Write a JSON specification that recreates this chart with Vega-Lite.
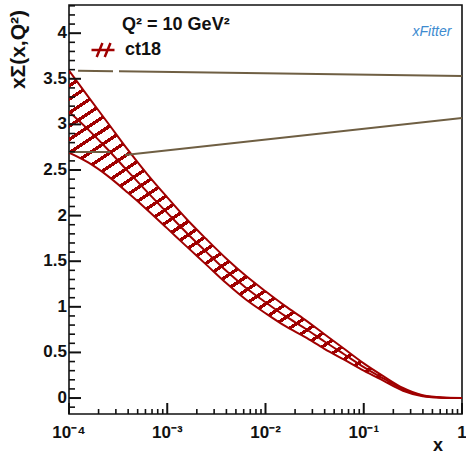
{
  "$schema": "https://vega.github.io/schema/vega-lite/v6.json",
  "width": 393,
  "height": 409,
  "autosize": {"type": "none"},
  "padding": {"left": 69, "top": 5, "right": 4, "bottom": 41},
  "background": "white",
  "config": {
    "view": {"stroke": "#111111", "strokeWidth": 1.6},
    "font": "Liberation Sans"
  },
  "datasets": {
    "band": [
      {"x": 0.0001, "hi": 3.59, "lo": 2.69, "mid": 3.14},
      {"x": 0.000158, "hi": 3.30, "lo": 2.58, "mid": 2.94},
      {"x": 0.000251, "hi": 3.01, "lo": 2.43, "mid": 2.72},
      {"x": 0.000398, "hi": 2.72, "lo": 2.25, "mid": 2.485},
      {"x": 0.000631, "hi": 2.45, "lo": 2.06, "mid": 2.255},
      {"x": 0.001, "hi": 2.20, "lo": 1.86, "mid": 2.03},
      {"x": 0.00158, "hi": 1.96, "lo": 1.66, "mid": 1.81},
      {"x": 0.00251, "hi": 1.74, "lo": 1.46, "mid": 1.60},
      {"x": 0.00398, "hi": 1.53, "lo": 1.26, "mid": 1.395},
      {"x": 0.00631, "hi": 1.34, "lo": 1.08, "mid": 1.21},
      {"x": 0.01, "hi": 1.17, "lo": 0.93, "mid": 1.05},
      {"x": 0.0158, "hi": 1.01, "lo": 0.79, "mid": 0.90},
      {"x": 0.0251, "hi": 0.86, "lo": 0.67, "mid": 0.765},
      {"x": 0.0398, "hi": 0.70, "lo": 0.54, "mid": 0.62},
      {"x": 0.0631, "hi": 0.54, "lo": 0.42, "mid": 0.48},
      {"x": 0.1, "hi": 0.38, "lo": 0.30, "mid": 0.34},
      {"x": 0.158, "hi": 0.24, "lo": 0.19, "mid": 0.215},
      {"x": 0.251, "hi": 0.11, "lo": 0.08, "mid": 0.095},
      {"x": 0.398, "hi": 0.03, "lo": 0.02, "mid": 0.025},
      {"x": 0.631, "hi": 0.006, "lo": 0.003, "mid": 0.0045},
      {"x": 1, "hi": 0.001, "lo": 0.0, "mid": 0.0005}
    ],
    "guide": [
      {"seg": "a1", "x": 0.0001236, "y": 3.589},
      {"seg": "a1", "x": 0.0002805, "y": 3.584},
      {"seg": "a2", "x": 0.0003228, "y": 3.583},
      {"seg": "a2", "x": 1, "y": 3.531},
      {"seg": "b1", "x": 0.0001, "y": 2.697},
      {"seg": "b1", "x": 0.0002618, "y": 2.697},
      {"seg": "b2", "x": 0.0003715, "y": 2.664},
      {"seg": "b2", "x": 1, "y": 3.07}
    ],
    "ylabels": [
      {"v": 0, "label": "0"}, {"v": 0.5, "label": "0.5"}, {"v": 1, "label": "1"}, {"v": 1.5, "label": "1.5"},
      {"v": 2, "label": "2"}, {"v": 2.5, "label": "2.5"}, {"v": 3, "label": "3"}, {"v": 3.5, "label": "3.5"}, {"v": 4, "label": "4"}
    ],
    "ymajor": [{"v": 0}, {"v": 0.5}, {"v": 1}, {"v": 1.5}, {"v": 2}, {"v": 2.5}, {"v": 3}, {"v": 3.5}, {"v": 4}],
    "yminor": [
      {"v": -0.1}, {"v": 0.1}, {"v": 0.2}, {"v": 0.3}, {"v": 0.4}, {"v": 0.6}, {"v": 0.7}, {"v": 0.8}, {"v": 0.9},
      {"v": 1.1}, {"v": 1.2}, {"v": 1.3}, {"v": 1.4}, {"v": 1.6}, {"v": 1.7}, {"v": 1.8}, {"v": 1.9},
      {"v": 2.1}, {"v": 2.2}, {"v": 2.3}, {"v": 2.4}, {"v": 2.6}, {"v": 2.7}, {"v": 2.8}, {"v": 2.9},
      {"v": 3.1}, {"v": 3.2}, {"v": 3.3}, {"v": 3.4}, {"v": 3.6}, {"v": 3.7}, {"v": 3.8}, {"v": 3.9},
      {"v": 4.1}, {"v": 4.2}, {"v": 4.3}
    ],
    "xlabels": [
      {"v": 0.0001, "label": "10⁻⁴"}, {"v": 0.001, "label": "10⁻³"}, {"v": 0.01, "label": "10⁻²"},
      {"v": 0.1, "label": "10⁻¹"}, {"v": 1, "label": "1"}
    ],
    "xmajor": [{"v": 0.0001}, {"v": 0.001}, {"v": 0.01}, {"v": 0.1}, {"v": 1}],
    "xminor": [
      {"v": 0.0002}, {"v": 0.0003}, {"v": 0.0004}, {"v": 0.0005}, {"v": 0.0006}, {"v": 0.0007}, {"v": 0.0008}, {"v": 0.0009},
      {"v": 0.002}, {"v": 0.003}, {"v": 0.004}, {"v": 0.005}, {"v": 0.006}, {"v": 0.007}, {"v": 0.008}, {"v": 0.009},
      {"v": 0.02}, {"v": 0.03}, {"v": 0.04}, {"v": 0.05}, {"v": 0.06}, {"v": 0.07}, {"v": 0.08}, {"v": 0.09},
      {"v": 0.2}, {"v": 0.3}, {"v": 0.4}, {"v": 0.5}, {"v": 0.6}, {"v": 0.7}, {"v": 0.8}, {"v": 0.9}
    ],
    "xtitle": [{"label": "x"}],
    "ytitle": [{"label": "xΣ(x,Q²)"}],
    "notes": [
      {"label": "Q² = 10 GeV²", "x": 0.000347, "y": 4.035}
    ],
    "logo": [
      {"label": "xFitter", "x": 0.495, "y": 3.97}
    ]
  },
  "layer": [
    {
      "data": {"name": "band"},
      "mark": {
        "type": "area",
        "interpolate": "monotone",
        "clip": true,
        "fill": {
          "gradient": "linear",
          "x1": 0, "y1": 0, "x2": 0.8, "y2": 1,
          "stops": [
            {"offset": 0, "color": "#a00000"}, {"offset": 0.0075, "color": "#a00000"}, {"offset": 0.0075, "color": "transparent"}, {"offset": 0.025, "color": "transparent"},
            {"offset": 0.025, "color": "#a00000"}, {"offset": 0.0325, "color": "#a00000"}, {"offset": 0.0325, "color": "transparent"}, {"offset": 0.05, "color": "transparent"},
            {"offset": 0.05, "color": "#a00000"}, {"offset": 0.0575, "color": "#a00000"}, {"offset": 0.0575, "color": "transparent"}, {"offset": 0.075, "color": "transparent"},
            {"offset": 0.075, "color": "#a00000"}, {"offset": 0.0825, "color": "#a00000"}, {"offset": 0.0825, "color": "transparent"}, {"offset": 0.1, "color": "transparent"},
            {"offset": 0.1, "color": "#a00000"}, {"offset": 0.1075, "color": "#a00000"}, {"offset": 0.1075, "color": "transparent"}, {"offset": 0.125, "color": "transparent"},
            {"offset": 0.125, "color": "#a00000"}, {"offset": 0.1325, "color": "#a00000"}, {"offset": 0.1325, "color": "transparent"}, {"offset": 0.15, "color": "transparent"},
            {"offset": 0.15, "color": "#a00000"}, {"offset": 0.1575, "color": "#a00000"}, {"offset": 0.1575, "color": "transparent"}, {"offset": 0.175, "color": "transparent"},
            {"offset": 0.175, "color": "#a00000"}, {"offset": 0.1825, "color": "#a00000"}, {"offset": 0.1825, "color": "transparent"}, {"offset": 0.2, "color": "transparent"},
            {"offset": 0.2, "color": "#a00000"}, {"offset": 0.2075, "color": "#a00000"}, {"offset": 0.2075, "color": "transparent"}, {"offset": 0.225, "color": "transparent"},
            {"offset": 0.225, "color": "#a00000"}, {"offset": 0.2325, "color": "#a00000"}, {"offset": 0.2325, "color": "transparent"}, {"offset": 0.25, "color": "transparent"},
            {"offset": 0.25, "color": "#a00000"}, {"offset": 0.2575, "color": "#a00000"}, {"offset": 0.2575, "color": "transparent"}, {"offset": 0.275, "color": "transparent"},
            {"offset": 0.275, "color": "#a00000"}, {"offset": 0.2825, "color": "#a00000"}, {"offset": 0.2825, "color": "transparent"}, {"offset": 0.3, "color": "transparent"},
            {"offset": 0.3, "color": "#a00000"}, {"offset": 0.3075, "color": "#a00000"}, {"offset": 0.3075, "color": "transparent"}, {"offset": 0.325, "color": "transparent"},
            {"offset": 0.325, "color": "#a00000"}, {"offset": 0.3325, "color": "#a00000"}, {"offset": 0.3325, "color": "transparent"}, {"offset": 0.35, "color": "transparent"},
            {"offset": 0.35, "color": "#a00000"}, {"offset": 0.3575, "color": "#a00000"}, {"offset": 0.3575, "color": "transparent"}, {"offset": 0.375, "color": "transparent"},
            {"offset": 0.375, "color": "#a00000"}, {"offset": 0.3825, "color": "#a00000"}, {"offset": 0.3825, "color": "transparent"}, {"offset": 0.4, "color": "transparent"},
            {"offset": 0.4, "color": "#a00000"}, {"offset": 0.4075, "color": "#a00000"}, {"offset": 0.4075, "color": "transparent"}, {"offset": 0.425, "color": "transparent"},
            {"offset": 0.425, "color": "#a00000"}, {"offset": 0.4325, "color": "#a00000"}, {"offset": 0.4325, "color": "transparent"}, {"offset": 0.45, "color": "transparent"},
            {"offset": 0.45, "color": "#a00000"}, {"offset": 0.4575, "color": "#a00000"}, {"offset": 0.4575, "color": "transparent"}, {"offset": 0.475, "color": "transparent"},
            {"offset": 0.475, "color": "#a00000"}, {"offset": 0.4825, "color": "#a00000"}, {"offset": 0.4825, "color": "transparent"}, {"offset": 0.5, "color": "transparent"},
            {"offset": 0.5, "color": "#a00000"}, {"offset": 0.5075, "color": "#a00000"}, {"offset": 0.5075, "color": "transparent"}, {"offset": 0.525, "color": "transparent"},
            {"offset": 0.525, "color": "#a00000"}, {"offset": 0.5325, "color": "#a00000"}, {"offset": 0.5325, "color": "transparent"}, {"offset": 0.55, "color": "transparent"},
            {"offset": 0.55, "color": "#a00000"}, {"offset": 0.5575, "color": "#a00000"}, {"offset": 0.5575, "color": "transparent"}, {"offset": 0.575, "color": "transparent"},
            {"offset": 0.575, "color": "#a00000"}, {"offset": 0.5825, "color": "#a00000"}, {"offset": 0.5825, "color": "transparent"}, {"offset": 0.6, "color": "transparent"},
            {"offset": 0.6, "color": "#a00000"}, {"offset": 0.6075, "color": "#a00000"}, {"offset": 0.6075, "color": "transparent"}, {"offset": 0.625, "color": "transparent"},
            {"offset": 0.625, "color": "#a00000"}, {"offset": 0.6325, "color": "#a00000"}, {"offset": 0.6325, "color": "transparent"}, {"offset": 0.65, "color": "transparent"},
            {"offset": 0.65, "color": "#a00000"}, {"offset": 0.6575, "color": "#a00000"}, {"offset": 0.6575, "color": "transparent"}, {"offset": 0.675, "color": "transparent"},
            {"offset": 0.675, "color": "#a00000"}, {"offset": 0.6825, "color": "#a00000"}, {"offset": 0.6825, "color": "transparent"}, {"offset": 0.7, "color": "transparent"},
            {"offset": 0.7, "color": "#a00000"}, {"offset": 0.7075, "color": "#a00000"}, {"offset": 0.7075, "color": "transparent"}, {"offset": 0.725, "color": "transparent"},
            {"offset": 0.725, "color": "#a00000"}, {"offset": 0.7325, "color": "#a00000"}, {"offset": 0.7325, "color": "transparent"}, {"offset": 0.75, "color": "transparent"},
            {"offset": 0.75, "color": "#a00000"}, {"offset": 0.7575, "color": "#a00000"}, {"offset": 0.7575, "color": "transparent"}, {"offset": 0.775, "color": "transparent"},
            {"offset": 0.775, "color": "#a00000"}, {"offset": 0.7825, "color": "#a00000"}, {"offset": 0.7825, "color": "transparent"}, {"offset": 0.8, "color": "transparent"},
            {"offset": 0.8, "color": "#a00000"}, {"offset": 0.8075, "color": "#a00000"}, {"offset": 0.8075, "color": "transparent"}, {"offset": 0.825, "color": "transparent"},
            {"offset": 0.825, "color": "#a00000"}, {"offset": 0.8325, "color": "#a00000"}, {"offset": 0.8325, "color": "transparent"}, {"offset": 0.85, "color": "transparent"},
            {"offset": 0.85, "color": "#a00000"}, {"offset": 0.8575, "color": "#a00000"}, {"offset": 0.8575, "color": "transparent"}, {"offset": 0.875, "color": "transparent"},
            {"offset": 0.875, "color": "#a00000"}, {"offset": 0.8825, "color": "#a00000"}, {"offset": 0.8825, "color": "transparent"}, {"offset": 0.9, "color": "transparent"},
            {"offset": 0.9, "color": "#a00000"}, {"offset": 0.9075, "color": "#a00000"}, {"offset": 0.9075, "color": "transparent"}, {"offset": 0.925, "color": "transparent"},
            {"offset": 0.925, "color": "#a00000"}, {"offset": 0.9325, "color": "#a00000"}, {"offset": 0.9325, "color": "transparent"}, {"offset": 0.95, "color": "transparent"},
            {"offset": 0.95, "color": "#a00000"}, {"offset": 0.9575, "color": "#a00000"}, {"offset": 0.9575, "color": "transparent"}, {"offset": 0.975, "color": "transparent"},
            {"offset": 0.975, "color": "#a00000"}, {"offset": 0.9825, "color": "#a00000"}, {"offset": 0.9825, "color": "transparent"}, {"offset": 1, "color": "transparent"}
          ]
        }
      },
      "encoding": {
        "x": {"field": "x", "type": "quantitative", "scale": {"type": "log", "domain": [0.0001, 1], "nice": false}, "axis": null},
        "y": {"field": "hi", "type": "quantitative", "scale": {"domain": [-0.175, 4.309], "nice": false, "zero": false}, "axis": null},
        "y2": {"field": "lo"}
      }
    },
    {
      "data": {"name": "band"},
      "mark": {"type": "line", "interpolate": "monotone", "color": "#a00000", "strokeWidth": 2, "clip": true},
      "encoding": {
        "x": {"field": "x", "type": "quantitative", "scale": {"type": "log", "domain": [0.0001, 1], "nice": false}, "axis": null},
        "y": {"field": "hi", "type": "quantitative", "scale": {"domain": [-0.175, 4.309], "nice": false, "zero": false}, "axis": null}
      }
    },
    {
      "data": {"name": "band"},
      "mark": {"type": "line", "interpolate": "monotone", "color": "#a00000", "strokeWidth": 2, "clip": true},
      "encoding": {
        "x": {"field": "x", "type": "quantitative", "scale": {"type": "log", "domain": [0.0001, 1], "nice": false}, "axis": null},
        "y": {"field": "lo", "type": "quantitative", "scale": {"domain": [-0.175, 4.309], "nice": false, "zero": false}, "axis": null}
      }
    },
    {
      "data": {"name": "band"},
      "mark": {"type": "line", "interpolate": "monotone", "strokeWidth": 2, "clip": true},
      "encoding": {
        "x": {"field": "x", "type": "quantitative", "scale": {"type": "log", "domain": [0.0001, 1], "nice": false}, "axis": null},
        "y": {"field": "mid", "type": "quantitative", "scale": {"domain": [-0.175, 4.309], "nice": false, "zero": false}, "axis": null},
        "color": {
          "datum": "ct18", "type": "nominal",
          "scale": {"range": ["#a00000"]},
          "legend": {
            "orient": "none", "legendX": 21, "legendY": 32, "padding": 0,
            "title": null,
            "symbolType": "M-1,0H1M-0.55,0.6L-0.05,-0.6M0.15,0.6L0.65,-0.6",
            "symbolSize": 529, "symbolStrokeWidth": 2.5,
            "symbolFillColor": "transparent", "symbolStrokeColor": "#a00000",
            "labelFont": "Liberation Sans", "labelFontWeight": "bold", "labelFontSize": 18,
            "labelColor": "#111111", "labelOffset": 9
          }
        }
      }
    },
    {
      "data": {"name": "guide"},
      "mark": {"type": "line", "color": "#6f5f43", "strokeWidth": 2, "clip": true},
      "encoding": {
        "x": {"field": "x", "type": "quantitative", "scale": {"type": "log", "domain": [0.0001, 1], "nice": false}, "axis": null},
        "y": {"field": "y", "type": "quantitative", "scale": {"domain": [-0.175, 4.309], "nice": false, "zero": false}, "axis": null},
        "detail": {"field": "seg", "type": "nominal"}
      }
    },
    {
      "data": {"name": "ylabels"},
      "mark": {"type": "text", "align": "right", "baseline": "middle", "dx": -2, "font": "Liberation Sans", "fontWeight": "bold", "fontSize": 17, "color": "#111111"},
      "encoding": {
        "x": {"datum": 0.0001, "type": "quantitative", "scale": {"type": "log", "domain": [0.0001, 1], "nice": false}, "axis": null},
        "y": {"field": "v", "type": "quantitative", "scale": {"domain": [-0.175, 4.309], "nice": false, "zero": false}, "axis": null},
        "text": {"field": "label"}
      }
    },
    {
      "data": {"name": "xlabels"},
      "mark": {"type": "text", "align": "center", "baseline": "top", "dy": 11, "font": "Liberation Sans", "fontWeight": "bold", "fontSize": 17, "color": "#111111"},
      "encoding": {
        "x": {"field": "v", "type": "quantitative", "scale": {"type": "log", "domain": [0.0001, 1], "nice": false}, "axis": null},
        "y": {"datum": -0.175, "type": "quantitative", "scale": {"domain": [-0.175, 4.309], "nice": false, "zero": false}, "axis": null},
        "text": {"field": "label"}
      }
    },
    {
      "data": {"name": "xtitle"},
      "mark": {"type": "text", "align": "center", "baseline": "alphabetic", "dy": 37, "font": "Liberation Sans", "fontWeight": "bold", "fontSize": 18, "color": "#111111"},
      "encoding": {
        "x": {"datum": 0.57, "type": "quantitative", "scale": {"type": "log", "domain": [0.0001, 1], "nice": false}, "axis": null},
        "y": {"datum": -0.175, "type": "quantitative", "scale": {"domain": [-0.175, 4.309], "nice": false, "zero": false}, "axis": null},
        "text": {"field": "label"}
      }
    },
    {
      "data": {"name": "ytitle"},
      "mark": {"type": "text", "angle": 270, "align": "right", "baseline": "alphabetic", "dx": -5, "dy": -44, "font": "Liberation Sans", "fontWeight": "bold", "fontSize": 21, "color": "#111111"},
      "encoding": {
        "x": {"datum": 0.0001, "type": "quantitative", "scale": {"type": "log", "domain": [0.0001, 1], "nice": false}, "axis": null},
        "y": {"datum": 4.309, "type": "quantitative", "scale": {"domain": [-0.175, 4.309], "nice": false, "zero": false}, "axis": null},
        "text": {"field": "label"}
      }
    },
    {
      "data": {"name": "notes"},
      "mark": {"type": "text", "align": "left", "baseline": "alphabetic", "font": "Liberation Sans", "fontWeight": "bold", "fontSize": 18, "color": "#111111"},
      "encoding": {
        "x": {"field": "x", "type": "quantitative", "scale": {"type": "log", "domain": [0.0001, 1], "nice": false}, "axis": null},
        "y": {"field": "y", "type": "quantitative", "scale": {"domain": [-0.175, 4.309], "nice": false, "zero": false}, "axis": null},
        "text": {"field": "label"}
      }
    },
    {
      "data": {"name": "logo"},
      "mark": {"type": "text", "align": "center", "baseline": "alphabetic", "font": "Liberation Sans", "fontStyle": "italic", "fontSize": 14, "color": "#3d8bd0"},
      "encoding": {
        "x": {"field": "x", "type": "quantitative", "scale": {"type": "log", "domain": [0.0001, 1], "nice": false}, "axis": null},
        "y": {"field": "y", "type": "quantitative", "scale": {"domain": [-0.175, 4.309], "nice": false, "zero": false}, "axis": null},
        "text": {"field": "label"}
      }
    },
    {
      "data": {"name": "ymajor"},
      "mark": {"type": "tick", "orient": "horizontal", "size": 12, "thickness": 2, "color": "#111111", "opacity": 1},
      "encoding": {
        "x": {"datum": 0.0001151, "type": "quantitative", "scale": {"type": "log", "domain": [0.0001, 1], "nice": false}, "axis": null},
        "y": {"field": "v", "type": "quantitative", "scale": {"domain": [-0.175, 4.309], "nice": false, "zero": false}, "axis": null}
      }
    },
    {
      "data": {"name": "yminor"},
      "mark": {"type": "tick", "orient": "horizontal", "size": 6, "thickness": 1.6, "color": "#111111", "opacity": 1},
      "encoding": {
        "x": {"datum": 0.0001073, "type": "quantitative", "scale": {"type": "log", "domain": [0.0001, 1], "nice": false}, "axis": null},
        "y": {"field": "v", "type": "quantitative", "scale": {"domain": [-0.175, 4.309], "nice": false, "zero": false}, "axis": null}
      }
    },
    {
      "data": {"name": "xmajor"},
      "mark": {"type": "tick", "orient": "vertical", "size": 11, "thickness": 2, "color": "#111111", "opacity": 1},
      "encoding": {
        "x": {"field": "v", "type": "quantitative", "scale": {"type": "log", "domain": [0.0001, 1], "nice": false}, "axis": null},
        "y": {"datum": -0.1147, "type": "quantitative", "scale": {"domain": [-0.175, 4.309], "nice": false, "zero": false}, "axis": null}
      }
    },
    {
      "data": {"name": "xminor"},
      "mark": {"type": "tick", "orient": "vertical", "size": 5, "thickness": 1.6, "color": "#111111", "opacity": 1},
      "encoding": {
        "x": {"field": "v", "type": "quantitative", "scale": {"type": "log", "domain": [0.0001, 1], "nice": false}, "axis": null},
        "y": {"datum": -0.1476, "type": "quantitative", "scale": {"domain": [-0.175, 4.309], "nice": false, "zero": false}, "axis": null}
      }
    }
  ]
}
